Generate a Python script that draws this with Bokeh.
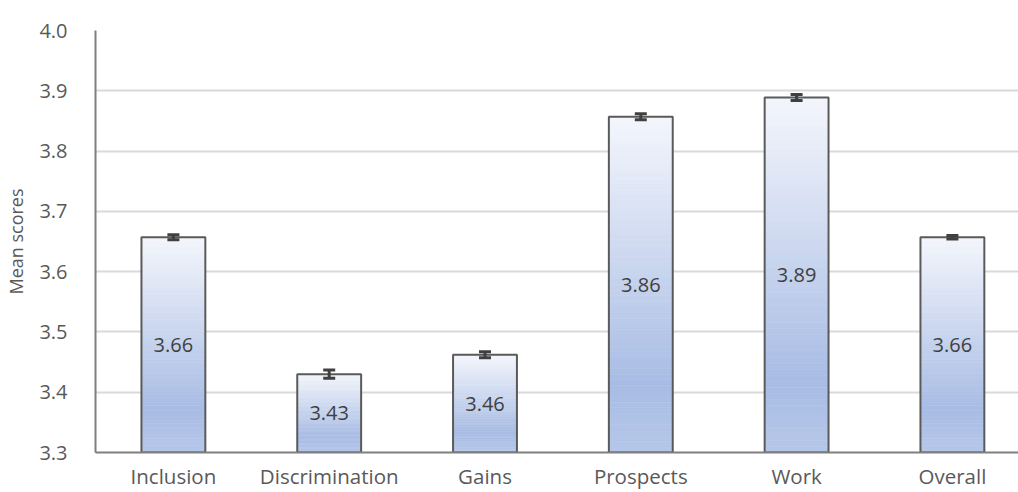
from bokeh.plotting import figure
from bokeh.models import Range1d, FixedTicker, ColumnDataSource, Whisker, TeeHead
from bokeh.core.properties import value
from bokeh.embed import file_html
from bokeh.resources import INLINE

categories = ["Inclusion", "Discrimination", "Gains", "Prospects", "Work", "Overall"]
means = [3.657, 3.430, 3.462, 3.857, 3.889, 3.657]
errors = [0.004, 0.007, 0.005, 0.005, 0.005, 0.003]
labels = ["3.66", "3.43", "3.46", "3.86", "3.89", "3.66"]
y_ticks = [3.3, 3.4, 3.5, 3.6, 3.7, 3.8, 3.9, 4.0]

BASE = 3.3
FONT = "Open Sans"
W, H = 1018, 492
LEFT, TOP, BOTTOM = 95, 30, 39
UNIT = 155.8  # px per category
frame_w = W - LEFT
x_end = -0.5 + frame_w / UNIT

p = figure(width=W, height=H, output_backend="svg", toolbar_location=None,
           x_range=Range1d(-0.5, x_end), y_range=Range1d(BASE, 4.0),
           min_border_left=LEFT, min_border_right=0, min_border_top=TOP,
           min_border_bottom=BOTTOM)
p.outline_line_color = None
p.background_fill_color = "white"
p.border_fill_color = "white"

xs = list(range(len(categories)))
bw = 0.41

# gradient stops (t from top=0 to bottom=1)
stops = [(0.0, (0xf4, 0xf6, 0xfc)), (0.8, (0xa8, 0xbc, 0xe4)), (1.0, (0xb6, 0xc7, 0xe9))]

def color_at(t):
    for (t0, c0), (t1, c1) in zip(stops[:-1], stops[1:]):
        if t0 <= t <= t1:
            f = (t - t0) / (t1 - t0) if t1 > t0 else 0
            c = [round(a + (b - a) * f) for a, b in zip(c0, c1)]
            return "#%02x%02x%02x" % tuple(c)
    return "#%02x%02x%02x" % stops[-1][1]

N = 60
ql, qr, qb, qt, qc = [], [], [], [], []
for x, v in zip(xs, means):
    h = v - BASE
    for k in range(N):
        top = v - h * k / N
        bot = v - h * (k + 1) / N
        ql.append(x - bw / 2)
        qr.append(x + bw / 2)
        qt.append(top)
        qb.append(bot)
        qc.append(color_at((k + 0.5) / N))
p.quad(left=ql, right=qr, top=qt, bottom=qb, fill_color=qc, line_color=qc, line_width=0.6)

src = ColumnDataSource(dict(x=xs, top=means, lab=labels,
                            mid=[(BASE + v) / 2 for v in means],
                            upper=[v + e for v, e in zip(means, errors)],
                            lower=[v - e for v, e in zip(means, errors)]))

# bar outlines
p.vbar(x="x", top="top", bottom=BASE, width=bw, source=src, fill_color=None,
       line_color="#5a5a5a", line_width=2)

# error bars
wh = Whisker(base="x", upper="upper", lower="lower", source=src,
             line_color="#404040", line_width=3,
             upper_head=TeeHead(size=12, line_color="#404040", line_width=3),
             lower_head=TeeHead(size=12, line_color="#404040", line_width=3))
wh.level = "overlay"
p.add_layout(wh)

# value labels
p.text(x="x", y="mid", text="lab", source=src, text_align="center",
       text_baseline="middle", text_font=value(FONT), text_font_size="20px",
       text_color="#404040")

# axes
p.xaxis.ticker = FixedTicker(ticks=xs)
p.xaxis.major_label_overrides = {i: c for i, c in enumerate(categories)}
p.yaxis.ticker = FixedTicker(ticks=y_ticks)
p.yaxis.major_label_overrides = {t: "%.1f" % t for t in y_ticks}

for ax in (p.xaxis[0], p.yaxis[0]):
    ax.major_tick_line_color = None
    ax.minor_tick_line_color = None
    ax.axis_line_color = "#7f7f7f"
    ax.axis_line_width = 2
    ax.major_label_text_font = FONT
    ax.major_label_text_color = "#595959"

p.xaxis.major_tick_out = 0
p.xaxis.major_tick_in = 0
p.xaxis.minor_tick_out = 0
p.xaxis.major_label_text_font_size = "20.5px"
p.xaxis.major_label_standoff = 9

p.yaxis.major_label_text_font_size = "20px"
p.yaxis.major_label_standoff = 22
p.yaxis.axis_label = "Mean scores"
p.yaxis.axis_label_text_font = FONT
p.yaxis.axis_label_text_font_size = "18px"
p.yaxis.axis_label_text_font_style = "normal"
p.yaxis.axis_label_text_color = "#595959"
p.yaxis.axis_label_standoff = 8

p.xgrid.grid_line_color = None
p.ygrid.ticker = FixedTicker(ticks=y_ticks)
p.ygrid.grid_line_color = "#d9d9d9"
p.ygrid.grid_line_width = 2

open("out.html", "w").write(file_html(p, INLINE))
